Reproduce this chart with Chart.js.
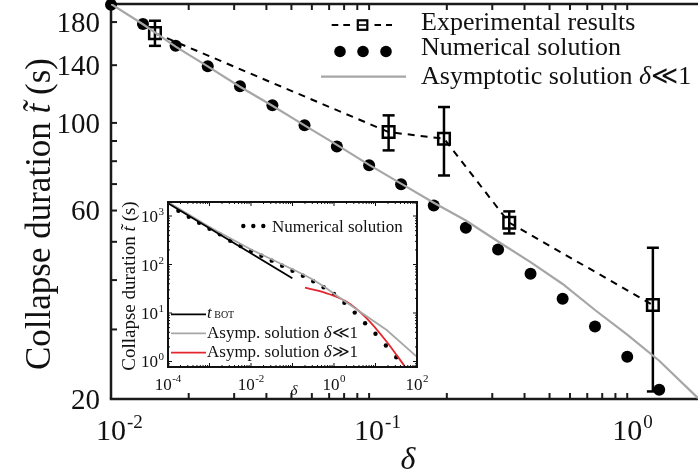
<!DOCTYPE html>
<html><head><meta charset="utf-8">
<script src="https://cdn.jsdelivr.net/npm/chart.js@4.4.1/dist/chart.umd.min.js"></script>
<style>
html,body{margin:0;padding:0;background:#fff;}
#wrap{position:relative;width:698px;height:473px;overflow:hidden;}
#main{position:absolute;left:0;top:0;width:698px;height:473px;}
#inset{position:absolute;left:115px;top:196px;width:325px;height:204px;}
</style></head><body>
<div id="wrap">
<canvas id="main" width="698" height="473"></canvas>
<canvas id="inset" width="325" height="204"></canvas>
</div>
<script>
const FONT = '"Liberation Serif", "Times New Roman", "DejaVu Serif", serif';

// ---------- main plot data ----------
const numDelta = [0.0100,0.0133,0.0178,0.0237,0.0316,0.0422,0.0562,0.0750,0.100,0.133,0.178,0.237,0.316,0.422,0.562,0.750,1.00,1.33];
const numT     = [199,178,156.7,139.2,123.9,110.9,98.6,87.2,78.1,69.9,61.8,54.3,47.8,41.5,35.9,30.5,25.6,21.1];
const asymDelta = [0.0100,0.0133,0.0178,0.0237,0.0316,0.0422,0.0562,0.0750,0.100,0.133,0.178,0.237,0.316,0.422,0.562,0.750,1.00,1.33,1.88];
const asymT     = [200,177.7,156,139,123.5,110.5,98.6,88,78.3,70.2,62.8,56.6,50.1,44.4,39.1,33.6,29.1,25.0,20.1];
const expDelta = [0.0148,0.119,0.195,0.349,1.257];
const expT     = [168.8,94.8,91.2,55.9,34.6];
const expHi    = [181.4,104.5,109.7,59.7,48.3];
const expLo    = [156.7,85.2,73.6,52.5,20.9];

const xMin = 0.01, xMax = 1.88, yMin = 20, yMax = 200;
const xTickValues = [0.01, 0.1, 1];
const xTickExps = ['-2', '-1', '0'];
const yTickValues = [20,30,40,50,60,70,80,90,100,140,180];
const yTickLabels = [20,60,100,140,180];

// ---------- inset data ----------
const inNumDelta = [1.78e-4,3.16e-4,5.62e-4,1e-3,1.78e-3,3.16e-3,5.62e-3,0.01,0.0178,0.0316,0.0562,0.1,0.178,0.316,0.562,1.0,1.78,3.16,5.62,10,17.8,31.6];
const inNumT     = [1286,968,728,547,419,310,241,190,152,120,94.5,74.5,58.5,45.1,33.9,24.7,16.3,10.2,6.14,3.73,2.13,1.22];
const inBotDelta = [1e-4, 0.099];
const inBotT     = [1830, 52];
const inAsymDelta = [1e-4,1e-3,1e-2,0.1,0.178,0.316,0.56,0.96,4.24,18.6,98.4];
const inAsymT     = [1945,593,204,80,63,48.5,35.5,25.5,10.6,4.46,1.26];
const inRedDelta = [0.2,0.667,2.02,6.14,18.6,53.5];
const inRedT     = [33.2,25.5,17.1,7.78,2.56,0.745];
const inXMin = 1e-4, inXMax = 100, inYMin = 0.77, inYMax = 1945;
const inXTickValues = [1e-4, 1e-2, 1, 100];
const inXTickExps = ['-4', '-2', '0', '2'];
const inYTickValues = [1, 10, 100, 1000];
const inYTickExps = ['0', '1', '2', '3'];

const pts = (xs, ys) => xs.map((x, i) => ({x, y: ys[i]}));

function logTickList(min, max) {
  const out = [];
  for (let e = Math.floor(Math.log10(min)); e <= Math.ceil(Math.log10(max)); e++) {
    for (let m = 1; m <= 9; m++) {
      const v = m * Math.pow(10, e);
      if (v >= min * 0.999 && v <= max * 1.001) out.push({v, major: m === 1});
    }
  }
  return out;
}
function seg(ctx, x1, y1, x2, y2) { ctx.beginPath(); ctx.moveTo(x1, y1); ctx.lineTo(x2, y2); ctx.stroke(); }
function richWidth(ctx, pieces) { let w = 0; pieces.forEach(p => { ctx.font = p.f; w += ctx.measureText(p.t).width; }); return w; }
function drawRich(ctx, pieces, x, y) {
  let cx = x;
  pieces.forEach(p => { ctx.font = p.f; ctx.fillText(p.t, cx, y); cx += ctx.measureText(p.t).width; });
}
function noPad(s) { s.paddingTop = 0; s.paddingBottom = 0; s.paddingLeft = 0; s.paddingRight = 0; }

// ---------- main chart decorations ----------
const mainDecor = {
  id: 'mainDecor',
  beforeDatasetsDraw(chart) {
    const {ctx, chartArea: a, scales: {x, y}} = chart;
    ctx.save();
    ctx.strokeStyle = '#1a1a1a';
    ctx.lineWidth = 2.5;
    seg(ctx, a.left, a.top, a.left, a.bottom);
    seg(ctx, a.left - 1.2, a.bottom, a.right, a.bottom);
    seg(ctx, a.left - 1.2, a.top, a.right, a.top);
    ctx.lineWidth = 2;
    logTickList(xMin, xMax).forEach(t => {
      const p = x.getPixelForValue(t.v);
      seg(ctx, p, a.bottom, p, a.bottom - 6);
      seg(ctx, p, a.top, p, a.top + 6);
    });
    yTickValues.forEach(v => {
      const p = y.getPixelForValue(v);
      seg(ctx, a.left, p, a.left + 6, p);
    });
    // error bars
    ctx.strokeStyle = '#000';
    ctx.lineWidth = 2.5;
    expDelta.forEach((d, i) => {
      const px = x.getPixelForValue(d), pt = y.getPixelForValue(expHi[i]), pb = y.getPixelForValue(expLo[i]);
      seg(ctx, px, pt, px, pb);
      seg(ctx, px - 6, pt, px + 6, pt);
      seg(ctx, px - 6, pb, px + 6, pb);
    });
    ctx.restore();
  },
  afterDraw(chart) {
    const {ctx, scales: {x}} = chart;
    ctx.save();
    ctx.fillStyle = '#111';
    ctx.textBaseline = 'alphabetic';
    // x tick labels 10^n
    xTickValues.forEach((v, i) => {
      const p = x.getPixelForValue(v);
      ctx.font = `30px ${FONT}`;
      const w = ctx.measureText('10').width;
      ctx.textAlign = 'left';
      ctx.fillText('10', p - w / 2, 440);
      ctx.font = `19px ${FONT}`;
      ctx.fillText(xTickExps[i], p + w / 2 + 1, 428);
    });
    // x title
    ctx.textAlign = 'center';
    ctx.font = `italic 32px ${FONT}`;
    ctx.fillText('δ', 408, 469);
    // y title
    const yt = [
      {t: 'Collapse duration ', f: `35px ${FONT}`},
      {t: 't\u0303', f: `italic 35px ${FONT}`},
      {t: ' (s)', f: `35px ${FONT}`}
    ];
    ctx.save();
    ctx.translate(50, 214);
    ctx.rotate(-Math.PI / 2);
    ctx.textAlign = 'left';
    drawRich(ctx, yt, -richWidth(ctx, yt) / 2, 0);
    ctx.restore();
    // legend
    ctx.textAlign = 'left';
    ctx.strokeStyle = '#000';
    ctx.lineWidth = 2;
    [[331.7,338.3],[343.3,350],[374.5,381],[386,392]].forEach(s => seg(ctx, s[0], 25, s[1], 25));
    ctx.lineWidth = 2.2;
    ctx.strokeRect(357.8, 20.3, 9.5, 9.5);
    ctx.lineWidth = 1.6;
    seg(ctx, 359, 25, 366.5, 25);
    ctx.font = `26px ${FONT}`;
    ctx.fillText('Experimental results', 421, 29.5);
    ctx.fillStyle = '#000';
    [340, 363, 386].forEach(cx => { ctx.beginPath(); ctx.arc(cx, 51.5, 5.8, 0, Math.PI * 2); ctx.fill(); });
    ctx.fillStyle = '#111';
    ctx.fillText('Numerical solution', 421, 55.3);
    ctx.strokeStyle = '#a6a6a6';
    ctx.lineWidth = 2.2;
    seg(ctx, 321, 76.7, 406, 76.7);
    drawRich(ctx, [
      {t: 'Asymptotic solution ', f: `26px ${FONT}`},
      {t: 'δ', f: `italic 26px ${FONT}`},
      {t: '≪', f: `26px ${FONT}`},
      {t: '1', f: `26px ${FONT}`}
    ], 421, 83.5);
    ctx.restore();
  }
};

new Chart(document.getElementById('main'), {
  type: 'scatter',
  data: {
    datasets: [
      { label: 'Asymptotic solution δ≪1', data: pts(asymDelta, asymT), showLine: true,
        borderColor: '#a6a6a6', borderWidth: 2.2, pointRadius: 0, pointHoverRadius: 0 },
      { label: 'Experimental results', data: pts(expDelta, expT), showLine: true,
        borderColor: '#000', borderWidth: 2, borderDash: [7, 6], pointStyle: 'rect', pointRadius: 8.2,
        pointBorderWidth: 2.5, pointBorderColor: '#000', pointBackgroundColor: 'rgba(255,255,255,0)' },
      { label: 'Numerical solution', data: pts(numDelta, numT), showLine: false,
        pointRadius: 6, pointBackgroundColor: '#000', pointBorderColor: '#000', pointBorderWidth: 0, clip: false }
    ]
  },
  options: {
    responsive: false, animation: false,
    layout: {autoPadding: false, padding: {top: 4, right: 0, left: 0, bottom: 0}},
    plugins: {legend: {display: false}, tooltip: {enabled: false}},
    scales: {
      x: {
        type: 'logarithmic', min: xMin, max: xMax,
        grid: {display: false, drawTicks: false}, border: {display: false},
        ticks: {display: false},
        afterFit(s) { s.height = 74; noPad(s); }
      },
      y: {
        type: 'logarithmic', min: yMin, max: yMax,
        grid: {display: false, drawTicks: false}, border: {display: false},
        afterBuildTicks(s) { s.ticks = yTickValues.map(v => ({value: v})); },
        ticks: {
          autoSkip: false, padding: 11, labelOffset: 2, color: '#111',
          font: {family: FONT, size: 29},
          callback: v => yTickLabels.includes(v) ? String(v) : ''
        },
        afterFit(s) { s.width = 111; noPad(s); }
      }
    }
  },
  plugins: [mainDecor]
});

// ---------- inset chart ----------
const OX = 115, OY = 196;
const insetDecor = {
  id: 'insetDecor',
  beforeDraw(chart) {
    const {ctx, chartArea: a} = chart;
    ctx.save();
    ctx.fillStyle = '#fff';
    ctx.fillRect(a.left, a.top, a.right - a.left, a.bottom - a.top);
    ctx.restore();
  },
  afterDatasetsDraw(chart) {
    const {ctx, chartArea: a, scales: {x, y}} = chart;
    ctx.save();
    ctx.strokeStyle = '#111';
    ctx.lineWidth = 1;
    logTickList(inXMin, inXMax).forEach(t => {
      const p = x.getPixelForValue(t.v), L = t.major ? 4 : 2;
      seg(ctx, p, a.bottom, p, a.bottom - L);
      seg(ctx, p, a.top, p, a.top + L);
    });
    logTickList(inYMin, inYMax).forEach(t => {
      const p = y.getPixelForValue(t.v), L = t.major ? 4 : 2;
      seg(ctx, a.left, p, a.left + L, p);
      seg(ctx, a.right, p, a.right - L, p);
    });
    ctx.lineWidth = 2;
    ctx.strokeRect(a.left, a.top, a.right - a.left, a.bottom - a.top);
    ctx.restore();
  },
  afterDraw(chart) {
    const {ctx, scales: {x, y}} = chart;
    ctx.save();
    ctx.translate(-OX, -OY);
    ctx.fillStyle = '#111';
    ctx.textBaseline = 'alphabetic';
    ctx.textAlign = 'left';
    // y tick labels
    inYTickValues.forEach((v, i) => {
      const p = y.getPixelForValue(v) + OY;
      ctx.font = `11px ${FONT}`;
      const ew = ctx.measureText(inYTickExps[i]).width;
      ctx.fillText(inYTickExps[i], 164 - ew, p - 1);
      ctx.font = `17px ${FONT}`;
      const bw = ctx.measureText('10').width;
      ctx.fillText('10', 164 - ew - bw - 0.5, p + 6);
    });
    // x tick labels
    inXTickValues.forEach((v, i) => {
      const p = x.getPixelForValue(v) + OX;
      ctx.font = `17px ${FONT}`;
      const bw = ctx.measureText('10').width;
      ctx.font = `11px ${FONT}`;
      const ew = ctx.measureText(inXTickExps[i]).width;
      const x0 = p - (bw + ew + 0.5) / 2;
      ctx.font = `17px ${FONT}`;
      ctx.fillText('10', x0, 390);
      ctx.font = `11px ${FONT}`;
      ctx.fillText(inXTickExps[i], x0 + bw + 0.5, 381.5);
    });
    // x title
    ctx.textAlign = 'center';
    ctx.font = `italic 15px ${FONT}`;
    ctx.fillText('δ', 294, 395);
    // y title
    const yt = [
      {t: 'Collapse duration ', f: `19px ${FONT}`},
      {t: 't\u0303', f: `italic 19px ${FONT}`},
      {t: ' (s)', f: `19px ${FONT}`}
    ];
    ctx.save();
    ctx.translate(135, 286);
    ctx.rotate(-Math.PI / 2);
    ctx.textAlign = 'left';
    drawRich(ctx, yt, -richWidth(ctx, yt) / 2, 0);
    ctx.restore();
    // legend top-right
    ctx.textAlign = 'left';
    ctx.fillStyle = '#000';
    [243.3, 253.3, 263.3].forEach(cx => { ctx.beginPath(); ctx.arc(cx, 226, 2.2, 0, Math.PI * 2); ctx.fill(); });
    ctx.fillStyle = '#111';
    ctx.font = `17px ${FONT}`;
    ctx.fillText('Numerical solution', 272, 231.5);
    // legend bottom-left
    ctx.lineWidth = 1.8;
    ctx.strokeStyle = '#000';
    seg(ctx, 171, 314.3, 206, 314.3);
    ctx.strokeStyle = '#a6a6a6';
    seg(ctx, 171, 333.3, 206, 333.3);
    ctx.strokeStyle = '#e3262d';
    seg(ctx, 171, 352.7, 206, 352.7);
    drawRich(ctx, [
      {t: 't', f: `italic 17px ${FONT}`},
      {t: ' BOT', f: `10px ${FONT}`}
    ], 207, 318.3);
    drawRich(ctx, [
      {t: 'Asymp. solution ', f: `17px ${FONT}`},
      {t: 'δ', f: `italic 17px ${FONT}`},
      {t: '≪1', f: `17px ${FONT}`}
    ], 207, 337.7);
    drawRich(ctx, [
      {t: 'Asymp. solution ', f: `17px ${FONT}`},
      {t: 'δ', f: `italic 17px ${FONT}`},
      {t: '≫1', f: `17px ${FONT}`}
    ], 207, 357.3);
    ctx.restore();
  }
};

new Chart(document.getElementById('inset'), {
  type: 'scatter',
  data: {
    datasets: [
      { label: 't BOT', data: pts(inBotDelta, inBotT), showLine: true,
        borderColor: '#000', borderWidth: 1.8, pointRadius: 0, pointHoverRadius: 0 },
      { label: 'Asymp. solution δ≪1', data: pts(inAsymDelta, inAsymT), showLine: true,
        borderColor: '#a6a6a6', borderWidth: 1.8, pointRadius: 0, pointHoverRadius: 0 },
      { label: 'Asymp. solution δ≫1', data: pts(inRedDelta, inRedT), showLine: true,
        borderColor: '#e3262d', borderWidth: 1.8, pointRadius: 0, pointHoverRadius: 0, cubicInterpolationMode: 'monotone' },
      { label: 'Numerical solution', data: pts(inNumDelta, inNumT), showLine: false,
        pointRadius: 2.2, pointBackgroundColor: '#000', pointBorderWidth: 0 }
    ]
  },
  options: {
    responsive: false, animation: false,
    layout: {autoPadding: false, padding: {top: 6, right: 23, left: 0, bottom: 0}},
    plugins: {legend: {display: false}, tooltip: {enabled: false}},
    scales: {
      x: {
        type: 'logarithmic', min: inXMin, max: inXMax,
        grid: {display: false, drawTicks: false}, border: {display: false},
        ticks: {display: false},
        afterFit(s) { s.height = 33; noPad(s); }
      },
      y: {
        type: 'logarithmic', min: inYMin, max: inYMax,
        grid: {display: false, drawTicks: false}, border: {display: false},
        ticks: {display: false},
        afterFit(s) { s.width = 53; noPad(s); }
      }
    }
  },
  plugins: [insetDecor]
});
</script>
</body></html>
